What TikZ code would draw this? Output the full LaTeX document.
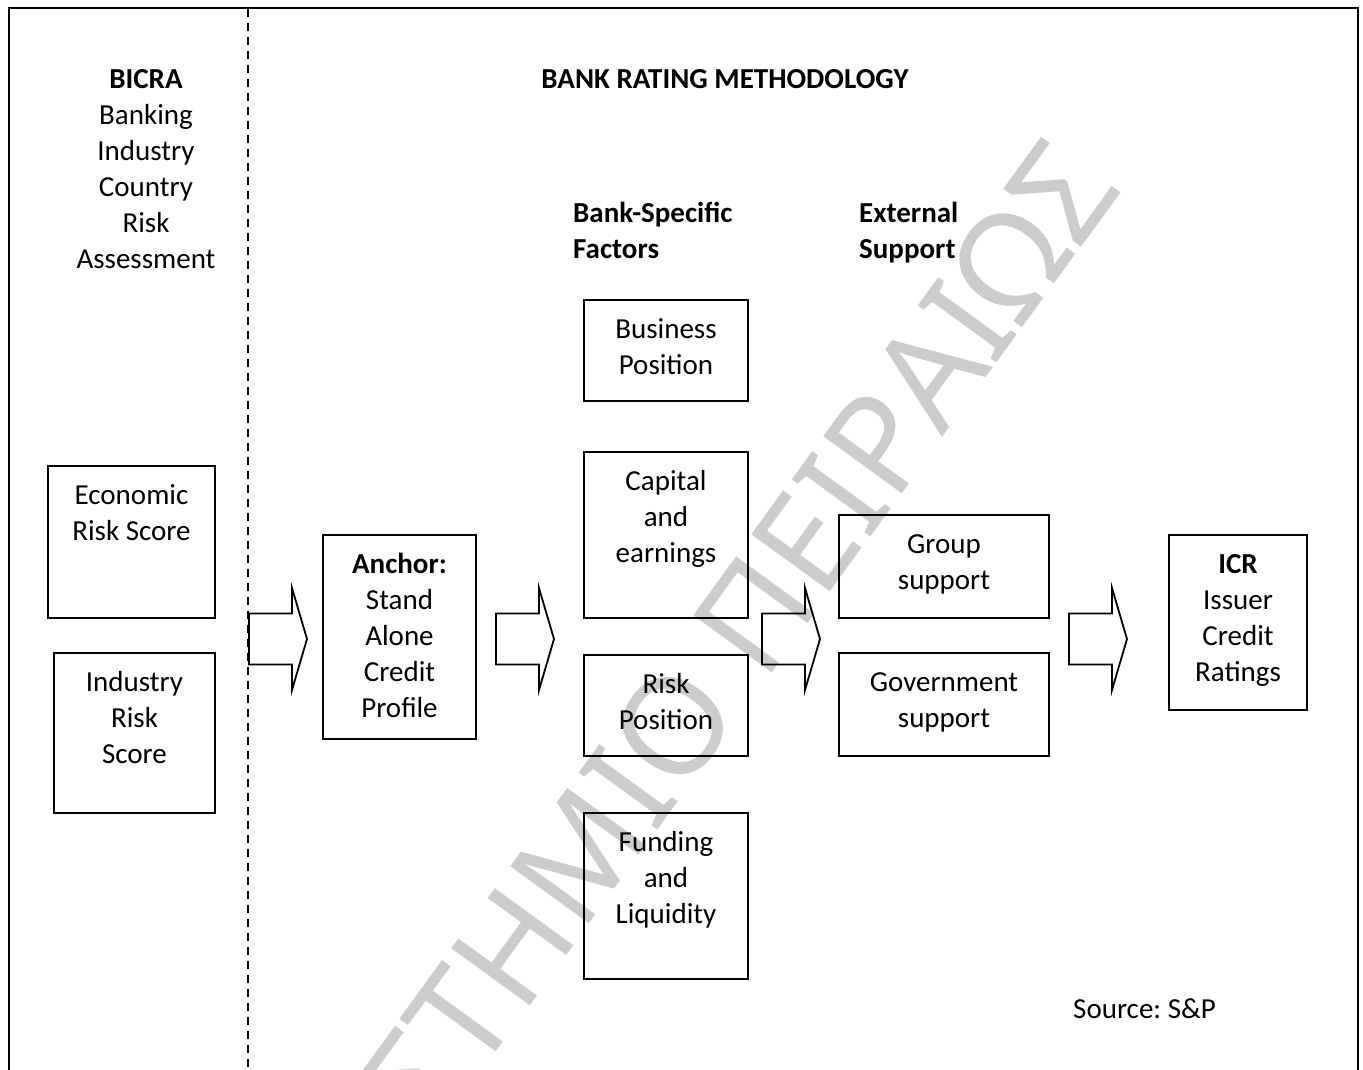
\documentclass[tikz,border=0pt]{standalone}
\usepackage{fontspec}
\setmainfont{Carlito}
\newfontfamily\wmfont{Noto Sans}
\begin{document}
\begin{tikzpicture}[x=1pt,y=-1pt,
  box/.style={draw, line width=1.8pt, inner sep=0pt},
  txt/.style={font=\fontsize{29}{36}\selectfont, align=center, inner sep=0pt, anchor=north},
  head/.style={font=\fontsize{29}{36}\selectfont\bfseries, inner sep=0pt},
  arrowline/.style={draw, line width=1.8pt, line join=miter},
  frameline/.style={line width=2pt},
  divider/.style={line width=2pt, dash pattern=on 8pt off 6pt},
  wm/.style={font=\wmfont\fontsize{136}{136}\selectfont, text=black!20, inner sep=0pt},
  blockarrow/.pic={\path[arrowline] (0,-25.5) -- (43,-25.5) -- (43,-51) -- (58,0) -- (43,51) -- (43,25.5) -- (0,25.5) -- cycle;}
]
\useasboundingbox (0,0) rectangle (1363,1069);
% watermark
\begin{scope}
\clip (0,0) rectangle (1363,1069);
\node[wm, rotate=54, anchor=base east] (wmark) at (1124,188) {ΠΑΝΕΠΙΣΤΗΜΙΟ ΠΕΙΡΑΙΩΣ};
\end{scope}
% frame and divider
\coordinate (fbl) at (9,1075);
\coordinate (ftl) at (9,8);
\coordinate (ftr) at (1358,8);
\coordinate (fbr) at (1358,1075);
\draw[frameline] (fbl) -- (ftl) -- (ftr) -- (fbr);
\coordinate (dtop) at (248,9);
\coordinate (dbot) at (248,1069);
\draw[divider] (dtop) -- (dbot);
% headings
\node[txt] (bicra) at (146,62.8) {\strut\textbf{BICRA}\\Banking\\Industry\\Country\\Risk\\Assessment};
\node[head, anchor=base] (brm) at (725,88) {BANK RATING METHODOLOGY};
\node[head, align=left, anchor=north west] (bsf) at (573,196.8) {\strut Bank-Specific\\Factors};
\node[head, align=left, anchor=north west] (ext) at (859,196.8) {\strut External\\Support};
\node[font=\fontsize{29}{36}\selectfont, inner sep=0pt, anchor=base west] (src) at (1073,1018) {Source:\ S\&P};
% boxes
\node[box, minimum width=167pt, minimum height=152pt] (eco) at (131.5,542) {};
\node[txt] (ecot) at ([yshift=-14pt]eco.north) {\strut Economic\\Risk Score};
\node[box, minimum width=161pt, minimum height=160pt] (ind) at (134.5,733) {};
\node[txt] (indt) at ([yshift=-14pt]ind.north) {\strut Industry\\Risk\\Score};
\node[box, minimum width=153pt, minimum height=204pt] (anc) at (399.5,637) {};
\node[txt] (anct) at ([yshift=-14pt]anc.north) {\strut\textbf{Anchor:}\\Stand\\Alone\\Credit\\Profile};
\node[box, minimum width=164pt, minimum height=101pt] (bus) at (666,350.5) {};
\node[txt] (bust) at ([yshift=-14pt]bus.north) {\strut Business\\Position};
\node[box, minimum width=164pt, minimum height=166pt] (cap) at (666,535) {};
\node[txt] (capt) at ([yshift=-14pt]cap.north) {\strut Capital\\and\\earnings};
\node[box, minimum width=164pt, minimum height=101pt] (rsk) at (666,705.5) {};
\node[txt] (rskt) at ([yshift=-14pt]rsk.north) {\strut Risk\\Position};
\node[box, minimum width=164pt, minimum height=166pt] (fnd) at (666,896) {};
\node[txt] (fndt) at ([yshift=-14pt]fnd.north) {\strut Funding\\and\\Liquidity};
\node[box, minimum width=210pt, minimum height=103pt] (grp) at (944,566.5) {};
\node[txt] (grpt) at ([yshift=-14pt]grp.north) {\strut Group\\support};
\node[box, minimum width=210pt, minimum height=103pt] (gov) at (944,704.5) {};
\node[txt] (govt) at ([yshift=-14pt]gov.north) {\strut Government\\support};
\node[box, minimum width=138pt, minimum height=175pt] (icr) at (1238,622.5) {};
\node[txt] (icrt) at ([yshift=-14pt]icr.north) {\strut\textbf{ICR}\\Issuer\\Credit\\Ratings};
% block arrows
\coordinate (a1) at (249,639);
\coordinate (a2) at (496,639);
\coordinate (a3) at (762,639);
\coordinate (a4) at (1069,639);
\pic at (a1) {blockarrow};
\pic at (a2) {blockarrow};
\pic at (a3) {blockarrow};
\pic at (a4) {blockarrow};
\end{tikzpicture}
\end{document}
